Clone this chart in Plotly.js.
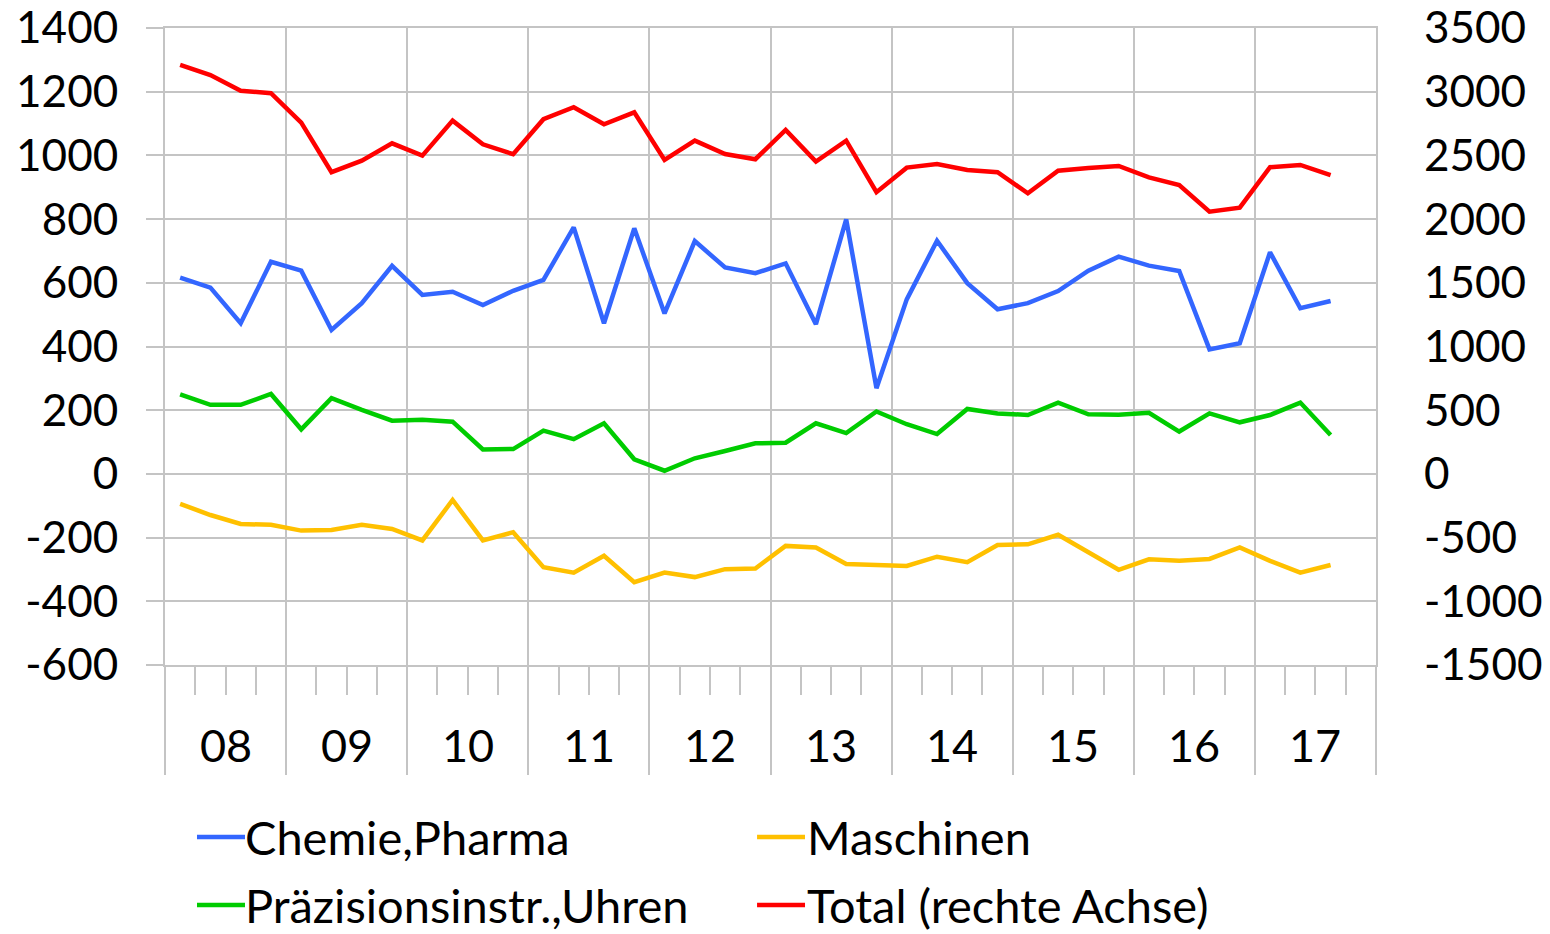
<!DOCTYPE html>
<html><head><meta charset="utf-8">
<script src="https://cdn.plot.ly/plotly-3.0.1.min.js"></script>
<style>html,body{margin:0;padding:0;background:#fff}#chart{width:1550px;height:934px}</style>
</head><body><div id="chart"></div>
<script>
const quarters = ['2008Q1','2008Q2','2008Q3','2008Q4','2009Q1','2009Q2','2009Q3','2009Q4',
  '2010Q1','2010Q2','2010Q3','2010Q4','2011Q1','2011Q2','2011Q3','2011Q4',
  '2012Q1','2012Q2','2012Q3','2012Q4','2013Q1','2013Q2','2013Q3','2013Q4',
  '2014Q1','2014Q2','2014Q3','2014Q4','2015Q1','2015Q2','2015Q3','2015Q4',
  '2016Q1','2016Q2','2016Q3','2016Q4','2017Q1','2017Q2','2017Q3'];
const yearLabels = ['08','09','10','11','12','13','14','15','16','17'];
const leftTicks = [-600,-400,-200,0,200,400,600,800,1000,1200,1400];
const leftTickText = ['-600','-400','-200','0','200','400','600','800','1000','1200','1400'];
const rightTicks = [-1500,-1000,-500,0,500,1000,1500,2000,2500,3000,3500];
const rightTickText = ['-1500','-1000','-500','0','500','1000','1500','2000','2500','3000','3500'];

const chemie = [616,585,473,666,638,452,536,653,562,572,530,575,609,774,473,771,504,731,648,630,
  661,470,799,269,548,732,599,517,536,574,638,682,654,637,391,410,696,520,543];
const maschinen = [-94,-129,-157,-160,-178,-176,-160,-173,-209,-82,-209,-183,-293,-310,-257,-340,-310,-324,-299,-297,
  -226,-231,-283,-286,-289,-260,-277,-223,-221,-191,-247,-301,-268,-273,-267,-231,-273,-310,-286];
const praezision = [250,217,217,251,140,238,201,167,170,164,77,78,136,109,159,46,10,49,72,96,
  98,159,128,196,156,125,204,190,185,224,187,186,192,133,190,162,185,224,122];
const total = [3210,3131,3008,2988,2757,2368,2459,2595,2498,2773,2587,2509,2784,2878,2744,2838,2464,2616,2511,2470,
  2700,2451,2616,2211,2404,2433,2386,2368,2203,2380,2401,2417,2328,2268,2058,2090,2407,2425,2346];

const seriesNames = ['Chemie,Pharma','Maschinen','Präzisionsinstr.,Uhren','Total (rechte Achse)'];
const colors = ['#3366FF','#FFC000','#00CC00','#FF0000'];

const xIdx = quarters.map((q, i) => i);
const FONT = 'Lato, "Open Sans", sans-serif';
const GRID = '#c4c4c4';
const LW = 4.5;

const traces = [
  {x: xIdx, y: chemie, name: seriesNames[0], line: {color: colors[0], width: LW}},
  {x: xIdx, y: maschinen, name: seriesNames[1], line: {color: colors[1], width: LW}},
  {x: xIdx, y: praezision, name: seriesNames[2], line: {color: colors[2], width: LW}},
  {x: xIdx, y: total, name: seriesNames[3], yaxis: 'y2', line: {color: colors[3], width: LW}}
].map(t => Object.assign({type: 'scatter', mode: 'lines', hoverinfo: 'x+y+name'}, t));

const nYears = yearLabels.length;
const yearBounds = [];
for (let k = 0; k <= nYears; k++) yearBounds.push(k * 4 - 0.5);

const annotations = yearLabels.map((lab, k) => ({
  x: k * 4 + 1.5, xref: 'x', y: -0.1256, yref: 'paper',
  text: lab, showarrow: false, xanchor: 'center', yanchor: 'middle',
  font: {family: FONT, size: 45, color: '#000'}
}));

// custom legend
const legPos = [
  {col: 0, row: 0}, {col: 1, row: 0}, {col: 0, row: 1}, {col: 1, row: 1}
];
const colX = [[0.02642, 0.06606, 0.0645], [0.4889, 0.5285, 0.5287]];
const rowY = [-0.2700, -0.3768];
const shapes = [];
seriesNames.forEach((nm, i) => {
  const p = legPos[i];
  const cx = colX[p.col], ry = rowY[p.row];
  shapes.push({type: 'line', xref: 'paper', yref: 'paper', x0: cx[0], x1: cx[1], y0: ry, y1: ry,
    line: {color: colors[i], width: LW}});
  annotations.push({x: cx[2], y: ry, xref: 'paper', yref: 'paper', text: nm, showarrow: false,
    xanchor: 'left', yanchor: 'middle', font: {family: FONT, size: 47, color: '#000'}});
});

const layout = {
  width: 1550, height: 934,
  margin: {l: 165, r: 174, t: 28, b: 269},
  paper_bgcolor: '#fff', plot_bgcolor: '#fff',
  showlegend: false,
  font: {family: FONT, size: 44, color: '#000'},
  xaxis: {
    range: [-0.5, 4 * nYears - 0.5],
    tickmode: 'array', tickvals: yearBounds, showticklabels: false,
    ticks: 'outside', ticklen: 108, tickwidth: 2, tickcolor: GRID,
    showgrid: true, gridcolor: GRID, gridwidth: 2,
    showline: true, linecolor: GRID, linewidth: 2, mirror: true,
    zeroline: false, fixedrange: true,
    minor: {tick0: -0.5, dtick: 1, ticks: 'outside', ticklen: 28, tickwidth: 2, tickcolor: GRID, showgrid: false}
  },
  yaxis: {
    range: [-600, 1400], tickmode: 'array', tickvals: leftTicks, ticktext: leftTickText,
    ticks: 'outside', ticklen: 17, tickwidth: 2, tickcolor: GRID,
    ticklabelstandoff: 19,
    showgrid: true, gridcolor: GRID, gridwidth: 2,
    showline: true, linecolor: GRID, linewidth: 2, mirror: true,
    zeroline: false, fixedrange: true,
    tickfont: {family: FONT, size: 44, color: '#000'}
  },
  yaxis2: {
    overlaying: 'y', side: 'right',
    range: [-1500, 3500], tickmode: 'array', tickvals: rightTicks, ticktext: rightTickText,
    ticks: '', showgrid: false, zeroline: false, showline: false,
    ticklabelstandoff: 47, fixedrange: true,
    tickfont: {family: FONT, size: 44, color: '#000'}
  },
  annotations: annotations,
  shapes: shapes
};

Plotly.newPlot('chart', traces, layout, {displayModeBar: false, staticPlot: true});
</script>
</body></html>
